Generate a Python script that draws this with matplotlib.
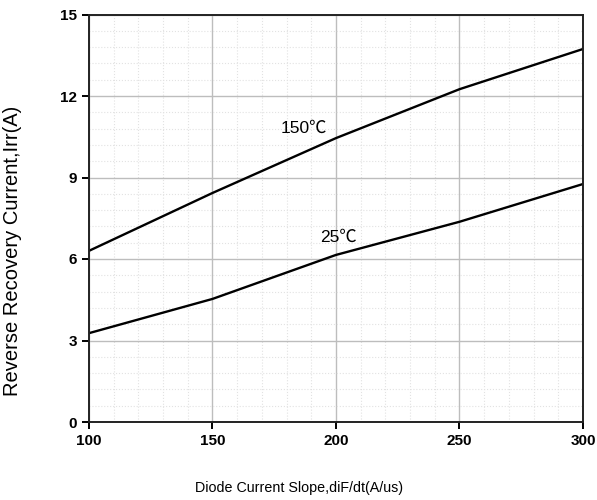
import numpy as np
import matplotlib
matplotlib.use("Agg")
import matplotlib.pyplot as plt
from matplotlib.ticker import MultipleLocator

plt.rcParams['font.family'] = ['Liberation Sans', 'Noto Sans CJK SC', 'DejaVu Sans']

# diF/dt (A/us) vs reverse recovery current Irr (A)
slope = [100, 150, 200, 250, 300]
irr_150c = [6.3, 8.43, 10.45, 12.25, 13.73]
irr_25c = [3.27, 4.53, 6.15, 7.37, 8.76]
curve_labels = ["150℃", "25℃"]

fig = plt.figure(figsize=(5.97, 5.0), dpi=100)
ax = fig.add_axes([0.149, 0.156, 0.8275, 0.815])

ax.plot(slope, irr_150c, color='black', lw=1.7)
ax.plot(slope, irr_25c, color='black', lw=1.7)

ax.text(187, 10.8, curve_labels[0], fontsize=12.5, ha='center', va='center',
        family=['Liberation Sans', 'Noto Sans CJK SC'])
ax.text(201, 6.8, curve_labels[1], fontsize=12.5, ha='center', va='center',
        family=['Liberation Sans', 'Noto Sans CJK SC'])

ax.set_xlim(100, 300)
ax.set_ylim(0, 15)
ax.xaxis.set_major_locator(MultipleLocator(50))
ax.xaxis.set_minor_locator(MultipleLocator(10))
ax.yaxis.set_major_locator(MultipleLocator(3))
ax.yaxis.set_minor_locator(MultipleLocator(0.6))

ax.grid(which='major', color='#bdbdbd', lw=1.0)
ax.grid(which='minor', color='#e2e2e2', lw=0.8, ls=':')
ax.set_axisbelow(True)

for s in ax.spines.values():
    s.set_linewidth(1.4)
    s.set_color('#222222')

ax.tick_params(which='major', direction='out', length=5, width=1.4, labelsize=11)
ax.tick_params(which='minor', length=0)
for lbl in ax.get_xticklabels() + ax.get_yticklabels():
    lbl.set_fontweight('bold')

ax.set_xlabel("Diode Current Slope,diF/dt(A/us)", fontsize=10.3)
ax.xaxis.set_label_coords(0.425, -0.145)
ax.set_ylabel("Reverse Recovery Current,Irr(A)", fontsize=14.5)
ax.yaxis.set_label_coords(-0.135, 0.42)

fig.savefig("out.png", dpi=100)
